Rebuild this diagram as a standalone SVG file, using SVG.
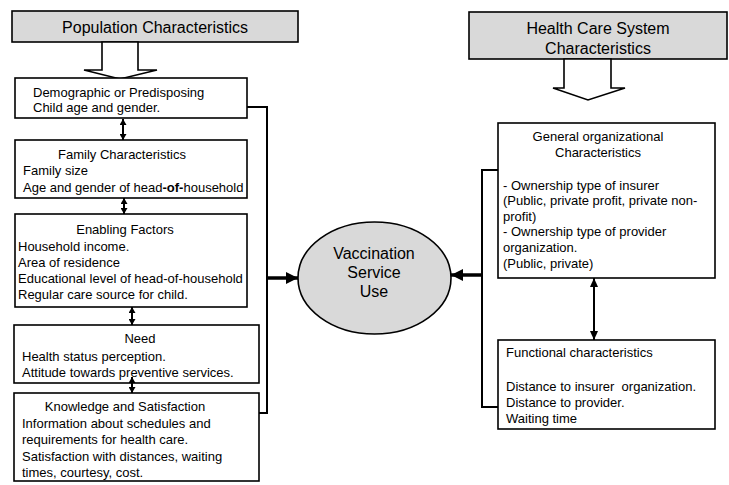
<svg xmlns="http://www.w3.org/2000/svg" width="729" height="485" viewBox="0 0 729 485">
<style>
text{font-family:"Liberation Sans",Arial,sans-serif;fill:#000}
.b{font-size:13px}
.h{font-size:16px}
.c{text-anchor:middle}
.box{fill:#fff;stroke:#000;stroke-width:1.6}
.hdr{fill:#d9d9d9;stroke:#000;stroke-width:1.6}
.hollow{fill:#fff;stroke:#000;stroke-width:1.6}
.line{fill:none;stroke:#000;stroke-width:2}
.thick{fill:none;stroke:#000;stroke-width:3.5}
</style>
<defs>
<marker id="ah" viewBox="0 0 10 10" refX="10" refY="5" markerWidth="6" markerHeight="7" preserveAspectRatio="none" markerUnits="userSpaceOnUse" orient="auto-start-reverse">
<path d="M0,0 L10,5 L0,10 Z" fill="#000"/>
</marker>
<marker id="ah2" viewBox="0 0 10 10" refX="10" refY="5" markerWidth="9" markerHeight="8" preserveAspectRatio="none" markerUnits="userSpaceOnUse" orient="auto-start-reverse">
<path d="M0,0 L10,5 L0,10 Z" fill="#000"/>
</marker>
<marker id="big" viewBox="0 0 10 10" refX="10" refY="5" markerWidth="12" markerHeight="12" markerUnits="userSpaceOnUse" orient="auto">
<path d="M0,0 L10,5 L0,10 Z" fill="#000"/>
</marker>
</defs>

<g id="population-header">
<rect class="hdr" x="12" y="11" width="286" height="31"/>
<text class="h c" x="155" y="33">Population Characteristics</text>
<path class="hollow" d="M102,42 L138,42 L138,70 L157,70 L120,79 L84,70 L102,70 Z"/>
</g>

<g id="health-header">
<rect class="hdr" x="469" y="12" width="258" height="47"/>
<text class="h c" x="598" y="34">Health Care System</text>
<text class="h c" x="598" y="54">Characteristics</text>
<path class="hollow" d="M564,59 L611,59 L611,88 L625,88 L588,100 L553,88 L564,88 Z"/>
</g>

<g id="demographic">
<rect class="box" x="15" y="78" width="232" height="40"/>
<text class="b" x="33" y="97">Demographic or Predisposing</text>
<text class="b" x="33" y="112">Child age and gender.</text>
</g>

<g id="family">
<rect class="box" x="15" y="140" width="232" height="58"/>
<text class="b c" x="122" y="159">Family Characteristics</text>
<text class="b" x="23" y="175">Family size</text>
<text class="b" x="23" y="192">Age and gender of head<tspan font-weight="bold">-of-</tspan>household</text>
</g>

<g id="enabling">
<rect class="box" x="15" y="214" width="232" height="93"/>
<text class="b c" x="125" y="234">Enabling Factors</text>
<text class="b" x="18" y="251">Household income.</text>
<text class="b" x="18" y="267">Area of residence</text>
<text class="b" x="18" y="283">Educational level of head-of-household</text>
<text class="b" x="18" y="299">Regular care source for child.</text>
</g>

<g id="need">
<rect class="box" x="14" y="325" width="245" height="58"/>
<text class="b c" x="140" y="343">Need</text>
<text class="b" x="22" y="361">Health status perception.</text>
<text class="b" x="22" y="377">Attitude towards preventive services.</text>
</g>

<g id="knowledge">
<rect class="box" x="14" y="393" width="245" height="88"/>
<text class="b c" x="125" y="411">Knowledge and Satisfaction</text>
<text class="b" x="22" y="428">Information about schedules and</text>
<text class="b" x="22" y="444">requirements for health care.</text>
<text class="b" x="22" y="461">Satisfaction with distances, waiting</text>
<text class="b" x="22" y="477">times, courtesy, cost.</text>
</g>

<g id="vaccination">
<ellipse cx="374.5" cy="278" rx="76.5" ry="56" fill="#d9d9d9" stroke="#000" stroke-width="1.6"/>
<text class="h c" x="374" y="259">Vaccination</text>
<text class="h c" x="374" y="278">Service</text>
<text class="h c" x="374" y="297">Use</text>
</g>

<g id="general-org">
<rect class="box" x="498" y="123" width="217" height="155"/>
<text class="b c" x="598" y="141">General organizational</text>
<text class="b c" x="598" y="157">Characteristics</text>
<text class="b" x="503" y="190">- Ownership type of insurer</text>
<text class="b" x="503" y="205">(Public, private profit, private non-</text>
<text class="b" x="503" y="221">profit)</text>
<text class="b" x="503" y="236">- Ownership type of provider</text>
<text class="b" x="503" y="252">organization.</text>
<text class="b" x="503" y="268">(Public, private)</text>
</g>

<g id="functional">
<rect class="box" x="498" y="340" width="217" height="89"/>
<text class="b" x="506" y="357">Functional characteristics</text>
<text class="b" x="506" y="391" xml:space="preserve">Distance to insurer  organization.</text>
<text class="b" x="506" y="407">Distance to provider.</text>
<text class="b" x="506" y="423">Waiting time</text>
</g>

<g id="connectors">
<path class="line" d="M247,107 L267,107 L267,413 L259,413"/>
<line class="thick" x1="267" y1="278" x2="298" y2="278" marker-end="url(#big)"/>
<path class="line" d="M498,170 L482,170 L482,407 L498,407"/>
<line class="thick" x1="482" y1="275" x2="451" y2="275" marker-end="url(#big)"/>
<line class="line" x1="123" y1="119" x2="123" y2="140" marker-start="url(#ah)" marker-end="url(#ah)"/>
<line class="line" x1="124" y1="198" x2="124" y2="214" marker-start="url(#ah)" marker-end="url(#ah)"/>
<line class="line" x1="132" y1="307" x2="132" y2="325" marker-start="url(#ah)" marker-end="url(#ah)"/>
<line class="line" x1="132" y1="377" x2="132" y2="393" marker-start="url(#ah)" marker-end="url(#ah)"/>
<line class="line" x1="594" y1="278" x2="594" y2="340" marker-start="url(#ah2)" marker-end="url(#ah2)"/>
</g>
</svg>
